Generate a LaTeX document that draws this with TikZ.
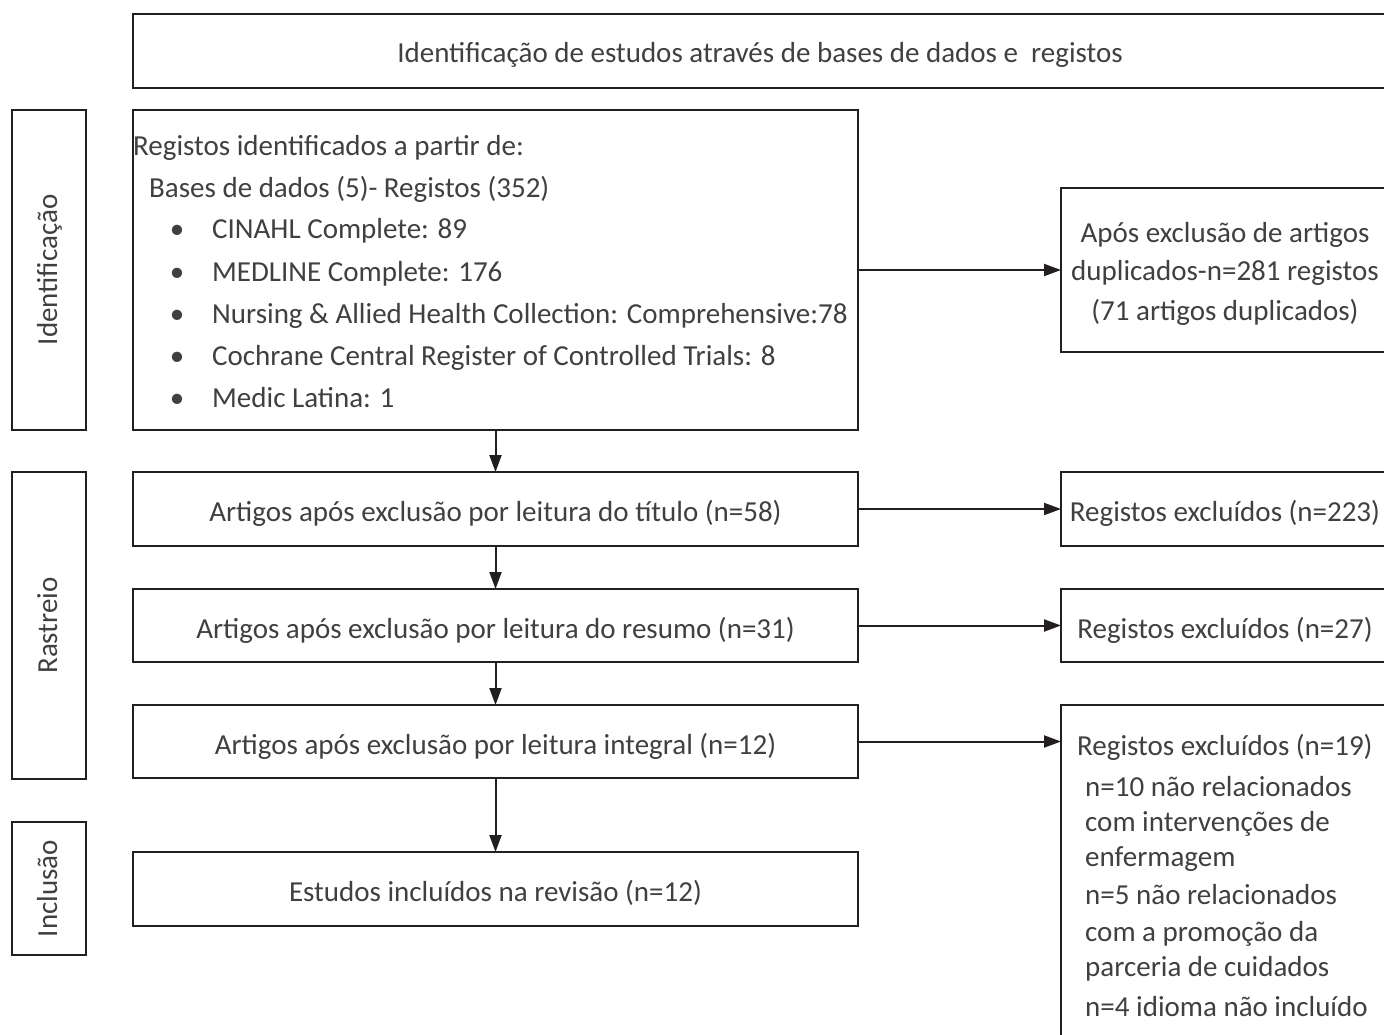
\documentclass[tikz,border=0pt]{standalone}
\usepackage{fontspec}
\setmainfont{Carlito}
\usetikzlibrary{arrows.meta}
\definecolor{txt}{HTML}{404040}
\definecolor{ln}{HTML}{231F20}
\tikzset{
  box/.style={draw=ln, line width=2pt, inner sep=0pt, outer sep=0pt},
  lbl/.style={text=txt, font=\fontsize{29}{34}\selectfont, inner sep=0pt, text height=20pt, text depth=0pt},
  rlbl/.style={text=txt, font=\fontsize{29}{34}\selectfont, inner sep=0pt, text height=20pt, text depth=6pt, rotate=90},
  arr/.style={draw=ln, line width=2pt, -{Triangle[length=17pt,width=12pt]}},
}
\begin{document}
\begin{tikzpicture}[x=1pt,y=-1pt]
\useasboundingbox (0,0) rectangle (1384,1035);
\clip (0,0) rectangle (1384,1035);
\fill[white] (0,0) rectangle (1384,1035);

% top header
\node[box, minimum width=1254pt, minimum height=74pt] (top) at (760,51) {};
\node[lbl] (toptxt) at (760,53) {Identificação de estudos através de bases de dados e \ registos};

% side labels
\node[box, minimum width=74pt, minimum height=320pt] (sid) at (49,270) {};
\node[rlbl] (sidtxt) at (50,270) {Identificação};
\node[box, minimum width=74pt, minimum height=307pt] (sra) at (49,625.5) {};
\node[rlbl] (sratxt) at (50,625.5) {Rastreio};
\node[box, minimum width=74pt, minimum height=133pt] (sin) at (49,888.5) {};
\node[rlbl] (sintxt) at (50,888.5) {Inclusão};

% main boxes
\node[box, minimum width=725pt, minimum height=320pt] (b1) at (495.5,270) {};
\node[lbl, anchor=west] (b1l1) at (133,146) {Registos identificados a partir de:};
\node[lbl, anchor=west] (b1l2) at (149,188) {Bases de dados (5)- Registos (352)};
\node[lbl] (bu1) at (177,229) {•};
\node[lbl] (bu2) at (177,271) {•};
\node[lbl] (bu3) at (177,313) {•};
\node[lbl] (bu4) at (177,355) {•};
\node[lbl] (bu5) at (177,397) {•};
\node[lbl, anchor=west] (b1l3) at (212,229) {CINAHL Complete: 89};
\node[lbl, anchor=west] (b1l4) at (212,271) {MEDLINE Complete: 176};
\node[lbl, anchor=west] (b1l5) at (212,313) {Nursing \& Allied Health Collection: Comprehensive:78};
\node[lbl, anchor=west] (b1l6) at (212,355) {Cochrane Central Register of Controlled Trials: 8};
\node[lbl, anchor=west] (b1l7) at (212,397) {Medic Latina: 1};

\node[box, minimum width=725pt, minimum height=74pt] (b2) at (495.5,509) {};
\node[lbl] (b2t) at (495.5,511) {Artigos após exclusão por leitura do título (n=58)};
\node[box, minimum width=725pt, minimum height=73pt] (b3) at (495.5,625.5) {};
\node[lbl] (b3t) at (495.5,628) {Artigos após exclusão por leitura do resumo (n=31)};
\node[box, minimum width=725pt, minimum height=73pt] (b4) at (495.5,741.5) {};
\node[lbl] (b4t) at (495.5,744) {Artigos após exclusão por leitura integral (n=12)};
\node[box, minimum width=725pt, minimum height=74pt] (b5) at (495.5,889) {};
\node[lbl] (b5t) at (495.5,891) {Estudos incluídos na revisão (n=12)};

% right boxes
\node[box, minimum width=328pt, minimum height=164pt] (r1) at (1225,270) {};
\node[lbl] (r1a) at (1225,233) {Após exclusão de artigos};
\node[lbl] (r1b) at (1225,270) {duplicados-n=281 registos};
\node[lbl] (r1c) at (1225,310) {(71 artigos duplicados)};

\node[box, minimum width=328pt, minimum height=74pt] (r2) at (1225,509) {};
\node[lbl] (r2t) at (1225,511) {Registos excluídos (n=223)};
\node[box, minimum width=328pt, minimum height=73pt] (r3) at (1225,625.5) {};
\node[lbl] (r3t) at (1225,628) {Registos excluídos (n=27)};

\node[box, minimum width=328pt, minimum height=370pt] (r4) at (1225,890) {};
\node[lbl, anchor=west] (r4a) at (1077,745) {Registos excluídos (n=19)};
\node[lbl, anchor=west] (r4b) at (1085,786) {n=10 não relacionados};
\node[lbl, anchor=west] (r4c) at (1085,821) {com intervenções de};
\node[lbl, anchor=west] (r4d) at (1085,856) {enfermagem};
\node[lbl, anchor=west] (r4e) at (1085,894) {n=5 não relacionados};
\node[lbl, anchor=west] (r4f) at (1085,931) {com a promoção da};
\node[lbl, anchor=west] (r4g) at (1085,966) {parceria de cuidados};
\node[lbl, anchor=west] (r4h) at (1085,1006) {n=4 idioma não incluído};

% arrows
\draw[arr] (b1.south) -- (b2.north);
\draw[arr] (b2.south) -- (b3.north);
\draw[arr] (b3.south) -- (b4.north);
\draw[arr] (b4.south) -- (b5.north);
\draw[arr] (b1.east) -- (r1.west);
\draw[arr] (b2.east) -- (r2.west);
\draw[arr] (b3.east) -- (r3.west);
\draw[arr] (b4.east) -- (b4.east -| r4.west);
\end{tikzpicture}
\end{document}
